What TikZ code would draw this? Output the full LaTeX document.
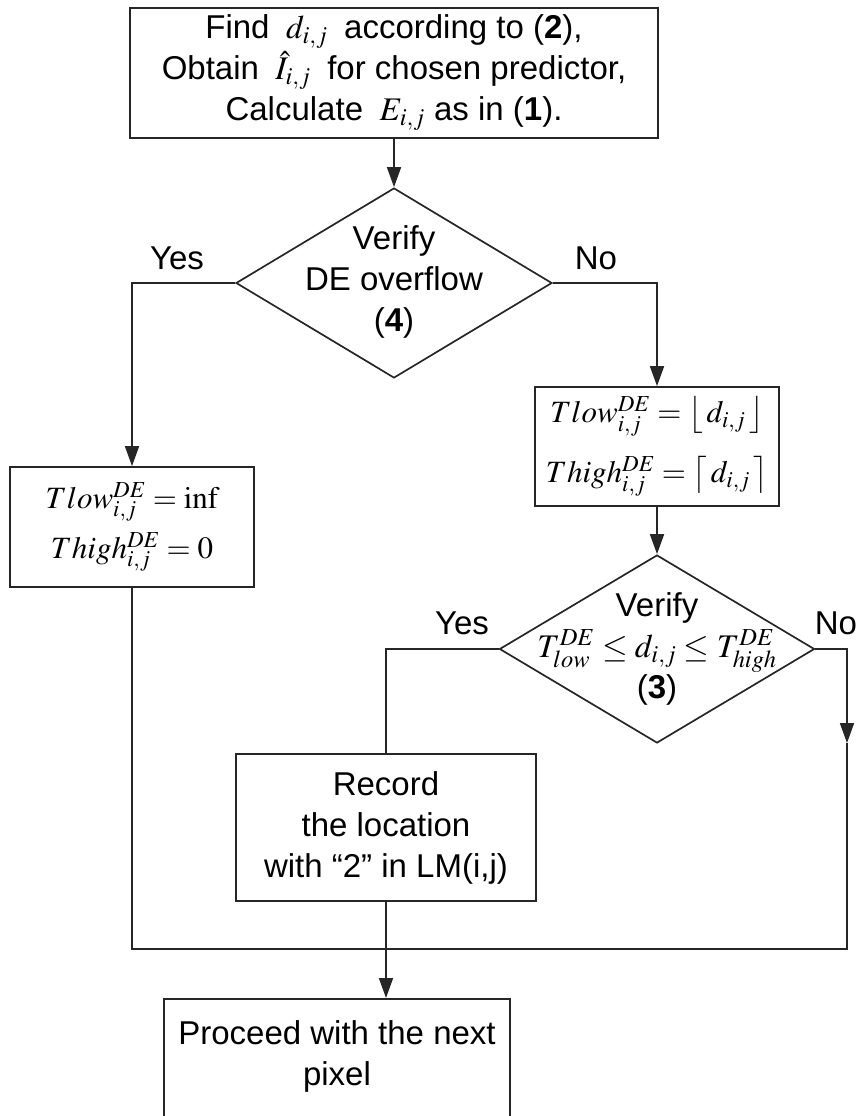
\documentclass[tikz,border=0pt]{standalone}
\usepackage{mathptmx}
\usepackage[no-math]{fontspec}
\setmainfont{Liberation Sans}
\usetikzlibrary{shapes.geometric,arrows.meta}

\begin{document}
\begin{tikzpicture}[x=1pt,y=-1pt,
  every node/.style={font=\fontsize{33}{41}\selectfont},
  box/.style={draw=black!85, line width=1.7pt, rectangle, inner sep=0pt, align=center},
  decision/.style={draw=black!85, line width=1.7pt, diamond, inner sep=0pt},
  txt/.style={align=center, inner sep=0pt},
  lbl/.style={inner sep=0pt},
  link/.style={draw=black!85, line width=1.7pt},
  arrow/.style={link, -{Triangle[length=20pt,width=14pt]}},
]
\useasboundingbox (0,0) rectangle (855,1116);
\clip (0,0) rectangle (855,1116);

% start: prediction and error
\node[box, minimum width=528, minimum height=130] (find) at (394,73)
  {Find\enspace$d_{i,j}$\enspace according to (\textbf{2}),\\
   Obtain\enspace$\hat{I}_{i,j}$\enspace for chosen predictor,\\
   Calculate\enspace$E_{i,j}$ as in (\textbf{1}).};

% first decision: overflow test
\node[decision, minimum width=316, minimum height=190] (ovf) at (394,283) {};
\node[txt] (ovftext) at (394,282) {Verify\\DE overflow\\(\textbf{4})};

% thresholds for the overflow case
\node[box, minimum width=244, minimum height=120,
      font=\fontsize{31}{50}\selectfont] (inf) at (132,527)
  {$Tlow^{DE}_{i,j}=\inf$\\ $Thigh^{DE}_{i,j}=0$};

% thresholds for the regular case
\node[box, minimum width=244, minimum height=119,
      font=\fontsize{31}{60}\selectfont] (rnd) at (657,446.5)
  {$Tlow^{DE}_{i,j}=\left\lfloor\, d_{i,j}\,\right\rfloor$\\
   $Thigh^{DE}_{i,j}=\left\lceil\, d_{i,j}\,\right\rceil$};

% second decision: range test
\node[decision, minimum width=315, minimum height=188] (rng) at (657,649) {};
\node[txt] (rngtext) at (657,649)
  {Verify\\ $T^{DE}_{low}\le d_{i,j}\le T^{DE}_{high}$\\(\textbf{3})};

% record the location
\node[box, minimum width=300, minimum height=147] (rec) at (386,827.5)
  {Record\\the location\\with “2” in LM(i,j)};

% next pixel
\node[box, minimum width=346, minimum height=180, anchor=north] (next) at (337,998) {};
\node[txt] (nexttext) at (337,1056) {Proceed with the next\\pixel};

% branch labels
\node[lbl] (y1) at (177,258) {Yes};
\node[lbl] (n1) at (596,258) {No};
\node[lbl] (y2) at (462,623) {Yes};
\node[lbl] (n2) at (836,623) {No};

% merge points
\coordinate (nr) at (847,743);
\coordinate (mr) at (847,949);
\coordinate (ml) at (132,949);

% connectors
\draw[arrow] (find.south) -- (ovf.north);
\draw[arrow] (ovf.west) -| (inf.north);
\draw[arrow] (ovf.east) -| (rnd.north);
\draw[arrow] (rnd.south) -- (rng.north);
\draw[link] (rng.west) -| (rec.north);
\draw[arrow] (rng.east) -| (nr);
\draw[link] (nr) -- (mr) -- (ml) -- (inf.south);
\draw[arrow] (rec.south) -- (rec.south |- next.north);
\end{tikzpicture}
\end{document}
